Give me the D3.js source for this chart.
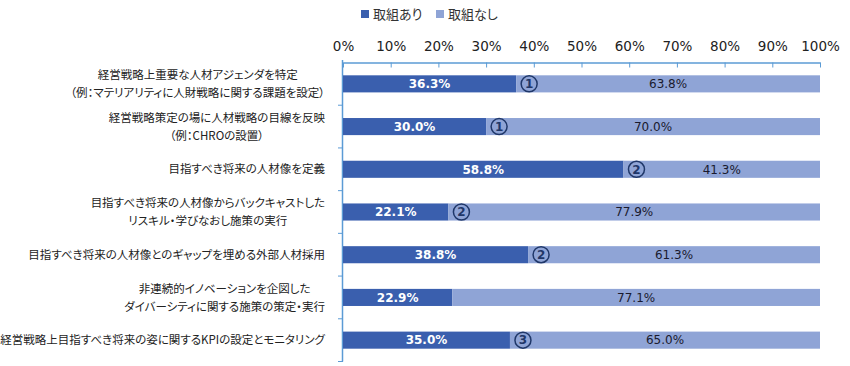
<!DOCTYPE html>
<html>
<head>
<meta charset="utf-8">
<script src="https://cdn.jsdelivr.net/npm/d3@7"></script>
<style>
  body { margin: 0; background: #fff; }
  svg { display: block; }
  .jp { font-family: "Noto Sans CJK JP", "Noto Sans", sans-serif; font-feature-settings: "palt"; }
  .num { font-family: "DejaVu Sans", Verdana, sans-serif; }
</style>
</head>
<body>
<svg id="chart" width="850" height="366"></svg>
<script>
// Data
const categories = [
  ["経営戦略上重要な人材アジェンダを特定", "（例：マテリアリティに人財戦略に関する課題を設定）"],
  ["経営戦略策定の場に人材戦略の目線を反映", "（例：CHROの設置）"],
  ["目指すべき将来の人材像を定義"],
  ["目指すべき将来の人材像からバックキャストした", "リスキル・学びなおし施策の実行"],
  ["目指すべき将来の人材像とのギャップを埋める外部人材採用"],
  ["非連続的イノベーションを企図した", "ダイバーシティに関する施策の策定・実行"],
  ["経営戦略上目指すべき将来の姿に関するKPIの設定とモニタリング"]
];
const withEffort = [36.3, 30.0, 58.8, 22.1, 38.8, 22.9, 35.0];
const withoutEffort = [63.8, 70.0, 41.3, 77.9, 61.3, 77.1, 65.0];
const markers = ["1", "1", "2", "2", "2", "", "3"];
const seriesNames = ["取組あり", "取組なし"];
const xTicks = [0, 10, 20, 30, 40, 50, 60, 70, 80, 90, 100];

const colors = ["#3a5fae", "#8fa4d6"];
const axisColor = "#5b9bd5";
const navy = "#1f3769";

const svg = d3.select("#chart");

const x = d3.scaleLinear().domain([0, 100]).range([343, 820]);
const y = d3.scaleBand()
  .domain(d3.range(categories.length))
  .range([62.5, 361.5])
  .paddingInner(0.6)
  .paddingOuter(0.3);

// Legend
const legend = svg.append("g").attr("class", "jp");
const legendX = [361, 436];
seriesNames.forEach((name, i) => {
  legend.append("rect")
    .attr("x", legendX[i]).attr("y", 10)
    .attr("width", 8).attr("height", 8)
    .attr("fill", colors[i]);
  legend.append("text")
    .attr("x", legendX[i] + 12).attr("y", 14)
    .attr("dy", "0.35em")
    .attr("font-size", 13)
    .attr("fill", "#333")
    .text(name);
});

// Top axis, ticks pointing into the plot
const xAxis = svg.append("g")
  .attr("transform", "translate(0,62.5)")
  .call(d3.axisTop(x).tickValues(xTicks).tickFormat(d => d + "%")
    .tickSizeInner(-5).tickSizeOuter(0));
xAxis.select(".domain").attr("stroke", axisColor).attr("stroke-width", 1.5);
xAxis.selectAll(".tick line").attr("stroke", axisColor);
xAxis.selectAll(".tick text")
  .attr("class", "num")
  .attr("font-size", 13.5)
  .attr("fill", "#222")
  .attr("y", -12);

// Left axis with ticks at the band boundaries
const left = svg.append("g");
left.append("line")
  .attr("x1", 342.5).attr("x2", 342.5)
  .attr("y1", 60).attr("y2", 361.5)
  .attr("stroke", axisColor).attr("stroke-width", 1.5);
const boundaries = d3.range(1, categories.length + 1).map(i => y.range()[0] + y.step() * i);
left.selectAll("line.tk")
  .data(boundaries)
  .enter().append("line")
  .attr("class", "tk")
  .attr("x1", 338).attr("x2", 343)
  .attr("y1", d => d).attr("y2", d => d)
  .attr("stroke", axisColor);

// Bars
const rows = svg.append("g").selectAll("g.row")
  .data(categories.map((c, i) => ({ i, a: withEffort[i], b: withoutEffort[i], m: markers[i] })))
  .enter().append("g").attr("class", "row");

rows.append("rect")
  .attr("x", x(0))
  .attr("y", d => y(d.i))
  .attr("width", d => x(d.a) - x(0))
  .attr("height", y.bandwidth())
  .attr("fill", colors[0]);

rows.append("rect")
  .attr("x", d => x(d.a))
  .attr("y", d => y(d.i))
  .attr("width", d => x(100) - x(d.a))
  .attr("height", y.bandwidth())
  .attr("fill", colors[1]);

// Value labels
rows.append("text")
  .attr("class", "num")
  .attr("x", d => (x(0) + x(d.a)) / 2)
  .attr("y", d => y(d.i) + y.bandwidth() / 2)
  .attr("dy", "0.36em")
  .attr("text-anchor", "middle")
  .attr("font-size", 12)
  .attr("font-weight", "bold")
  .attr("fill", "#fff")
  .text(d => d.a.toFixed(1) + "%");

rows.append("text")
  .attr("class", "num")
  .attr("x", d => (x(d.a) + x(100)) / 2)
  .attr("y", d => y(d.i) + y.bandwidth() / 2)
  .attr("dy", "0.36em")
  .attr("text-anchor", "middle")
  .attr("font-size", 12)
  .attr("fill", "#1a1a2e")
  .text(d => d.b.toFixed(1) + "%");

// Circled markers
const mk = rows.filter(d => d.m !== "");
mk.append("circle")
  .attr("cx", d => x(d.a) + 13)
  .attr("cy", d => y(d.i) + y.bandwidth() / 2)
  .attr("r", 8)
  .attr("fill", "none")
  .attr("stroke", navy)
  .attr("stroke-width", 1.5);
mk.append("text")
  .attr("class", "num")
  .attr("x", d => x(d.a) + 13)
  .attr("y", d => y(d.i) + y.bandwidth() / 2)
  .attr("dy", "0.36em")
  .attr("text-anchor", "middle")
  .attr("font-size", 12)
  .attr("font-weight", "bold")
  .attr("fill", navy)
  .text(d => d.m);

// Category labels: centered block, right-aligned at 325
const lineGap = 18;
categories.forEach((lines, i) => {
  const g = svg.append("g").attr("class", "jp");
  const cy = y(i) + y.bandwidth() / 2;
  const texts = lines.map((t, j) => g.append("text")
    .attr("font-size", 11.5)
    .attr("fill", "#222")
    .attr("text-anchor", "middle")
    .attr("y", cy + (j - (lines.length - 1) / 2) * lineGap)
    .attr("dy", "0.36em")
    .text(t));
  const maxW = d3.max(texts, t => t.node().getComputedTextLength());
  texts.forEach(t => t.attr("x", 325 - maxW / 2));
});
</script>
</body>
</html>
